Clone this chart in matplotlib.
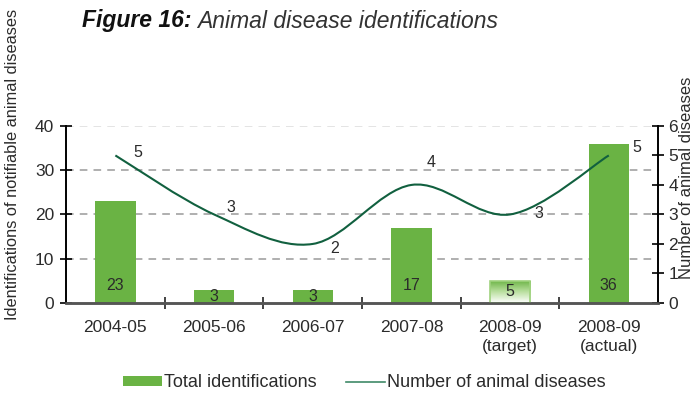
import numpy as np
import matplotlib
matplotlib.use('Agg')
import matplotlib.pyplot as plt
from matplotlib.path import Path
from matplotlib.patches import PathPatch, Patch
from matplotlib.lines import Line2D
from matplotlib.colors import LinearSegmentedColormap

plt.rcParams['font.family'] = ['Liberation Sans', 'DejaVu Sans']

# data
years = ['2004-05', '2005-06', '2006-07', '2007-08', '2008-09\n(target)', '2008-09\n(actual)']
identifications = [23, 3, 3, 17, 5, 36]
diseases = [5, 3, 2, 4, 3, 5]
target_idx = 4

GREEN = '#6ab344'
LINE_GREEN = '#11603f'
TEXT = '#2b2b2b'

fig = plt.figure(figsize=(6.95, 3.96), dpi=100)
ax = fig.add_axes([0.095, 0.235, 0.852, 0.447])
ax2 = ax.twinx()

x = np.arange(len(years))

# bars
for i, v in enumerate(identifications):
    if i == target_idx:
        # target bar: green fading to white towards the base
        rect = ax.bar(x[i], v, width=0.41, facecolor='none', edgecolor='#9fd27e',
                      linewidth=1.2, zorder=3)[0]
        grad = LinearSegmentedColormap.from_list('g', ['#ffffff', '#b9df9e', GREEN])
        img = ax.imshow(np.linspace(0, 1, 100).reshape(-1, 1), cmap=grad, origin='lower',
                        extent=[x[i] - 0.205, x[i] + 0.205, 0, v], aspect='auto', zorder=2)
        img.set_clip_path(rect)
    else:
        ax.bar(x[i], v, width=0.41, color=GREEN, zorder=2)
    ax.text(x[i], min(v / 2, 4.0), str(v), ha='center', va='center',
            fontsize=11.5, color=TEXT, zorder=4)

ax.set_xlim(-0.5, len(years) - 0.5)
ax.set_ylim(0, 40)
ax.set_yticks([0, 10, 20, 30, 40])
ax.set_xticks(x)
ax.set_xticklabels(years, fontsize=12.5, color=TEXT, linespacing=1.35)
ax.set_xticks(np.arange(0.5, len(years) - 0.5), minor=True)
ax.tick_params(axis='x', which='major', length=0, pad=12)
ax.tick_params(axis='x', which='minor', direction='inout', length=8, width=1.2, color='#222')
ax.tick_params(axis='y', direction='inout', length=9, width=1.2, labelsize=12.5,
               labelcolor=TEXT, pad=4)

# gridlines
for g in [10, 20, 30]:
    ax.axhline(g, color='#9a9a9a', linestyle=(0, (5, 4)), linewidth=1.1, zorder=1)
ax.axhline(40, color='#dddddd', linestyle=(0, (5, 4)), linewidth=1.1, zorder=1)

for a in (ax, ax2):
    a.spines['top'].set_visible(False)
    a.spines['left'].set_linewidth(1.2)
    a.spines['right'].set_linewidth(1.2)
    a.spines['bottom'].set_color('#555555')
    a.spines['bottom'].set_linewidth(1.8)
    a.patch.set_visible(False)

ax.set_ylabel('Identifications of notifiable animal diseases', fontsize=11.8, color=TEXT)
ax.yaxis.set_label_coords(-0.078, 0.78)

ax2.set_ylim(0, 6)
ax2.set_yticks(range(7))
ax2.tick_params(axis='y', direction='inout', length=9, width=1.2, labelsize=12.5,
                labelcolor=TEXT, pad=3)
ax2.set_ylabel('Number of animal diseases', fontsize=12, color=TEXT)
ax2.yaxis.set_label_coords(1.036, 0.705)

# smoothed line through the yearly counts (Catmull-Rom -> cubic Bezier)
pts = np.column_stack([x, diseases]).astype(float)
ext = np.vstack([pts[0], pts, pts[-1]])
verts = [tuple(pts[0])]
codes = [Path.MOVETO]
for i in range(len(pts) - 1):
    p0, p1, p2, p3 = ext[i], ext[i + 1], ext[i + 2], ext[i + 3]
    c1 = p1 + (p2 - p0) / 6
    c2 = p2 - (p3 - p1) / 6
    verts += [tuple(c1), tuple(c2), tuple(p2)]
    codes += [Path.CURVE4] * 3
ax2.add_patch(PathPatch(Path(verts, codes), facecolor='none', edgecolor=LINE_GREEN,
                        linewidth=1.5, zorder=5))

offsets = [(16, 2), (12, 5), (16, -3), (14, 16), (21, 1), (20, 6)]
for xi, d, off in zip(x, diseases, offsets):
    ax2.annotate(str(d), (xi, d), xytext=off, textcoords='offset points',
                 ha='center', va='center', fontsize=11.5, color=TEXT)

# title: bold italic prefix followed by italic text
t1 = fig.text(82 / 695, 1 - 21 / 396, 'Figure 16:', fontsize=16.5, fontweight='bold',
              style='italic', color='#111111', va='center')
fig.canvas.draw()
bb = t1.get_window_extent()
fig.text((bb.x1 + 6) / fig.bbox.width, 1 - 21 / 396, 'Animal disease identifications',
         fontsize=16.5, style='italic', color='#333333', va='center')

# legend
handles = [Patch(facecolor=GREEN, edgecolor='none'),
           Line2D([], [], color='#3f8a68', linewidth=1.2)]
fig.legend(handles, ['Total identifications', 'Number of animal diseases'],
           loc='center', bbox_to_anchor=(0.524, 0.033), ncol=2, frameon=False,
           fontsize=13, handlelength=2.2, handleheight=0.55, handletextpad=0.1,
           columnspacing=1.6, labelcolor=TEXT)

fig.savefig('out.png', dpi=100)
